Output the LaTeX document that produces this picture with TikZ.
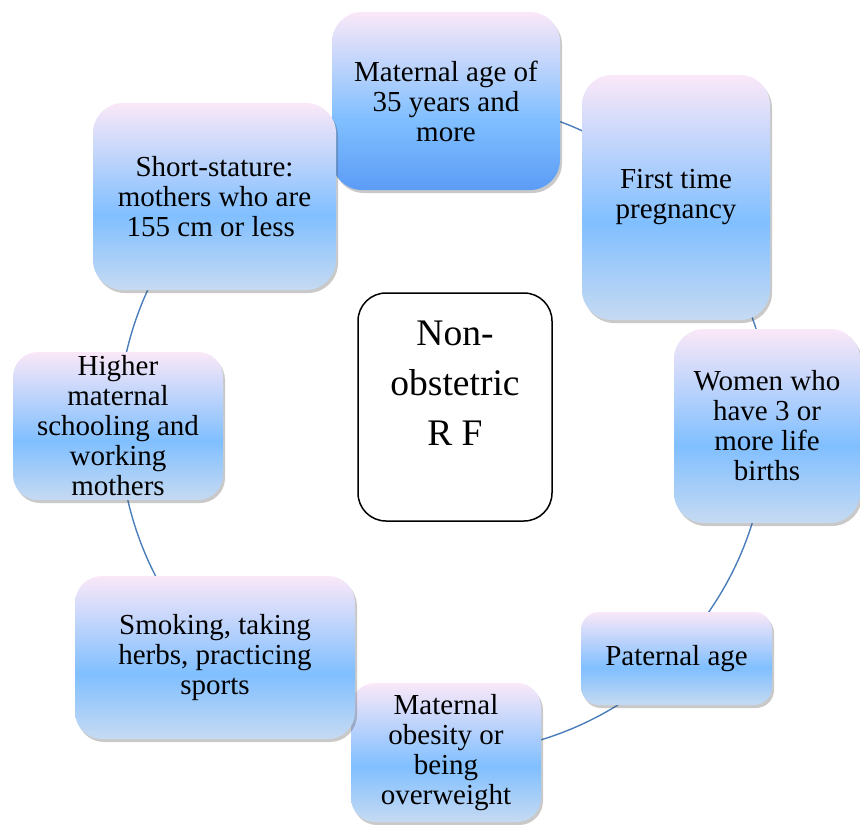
\documentclass[tikz,border=0pt]{standalone}
\usepackage{fontspec}
\setmainfont{Liberation Serif}
\usetikzlibrary{shadows,backgrounds}
\definecolor{pinktop}{HTML}{FAE8F8}
\definecolor{midblue}{HTML}{80BFFF}
\definecolor{botblue}{HTML}{C6DAF2}
\definecolor{darkbot}{HTML}{5C9CF6}
\definecolor{linkblue}{HTML}{4A7EBB}
\pgfdeclareverticalshading{boxshade}{100bp}{color(0bp)=(botblue); color(25bp)=(botblue); color(45bp)=(midblue); color(75bp)=(pinktop); color(100bp)=(pinktop)}
\pgfdeclareverticalshading{boxshadeB}{100bp}{color(0bp)=(darkbot); color(25bp)=(darkbot); color(45bp)=(midblue); color(75bp)=(pinktop); color(100bp)=(pinktop)}
\tikzset{
  box/.style={shading=boxshade, draw=none, align=center, inner sep=0pt,
    font=\fontsize{29}{30}\selectfont,
    drop shadow={shadow xshift=2pt, shadow yshift=-3pt, opacity=0.3, fill=black!70}},
  cbox/.style={draw=black, line width=1.5pt, fill=white, rounded corners=28pt, inner sep=0pt},
  ctext/.style={align=center, inner sep=0pt, font=\fontsize{37.5}{50}\selectfont},
  conn/.style={draw=linkblue, line width=1.4pt}
}
\begin{document}
\begin{tikzpicture}[x=1pt,y=-1pt]
\useasboundingbox (0,0) rectangle (860,825);
\node[box, shading=boxshadeB, rounded corners=30pt, minimum width=228pt, minimum height=178pt] (n1) at (446,101) {Maternal age of\\35 years and\\more\hspace*{0pt}};
\node[box, rounded corners=30pt, minimum width=188pt, minimum height=245pt] (n2) at (676,197.5) {First time\\pregnancy};
\node[box, rounded corners=30pt, minimum width=186pt, minimum height=194pt] (n3) at (767,426) {Women who\\have 3 or\\more life\\births};
\node[box, rounded corners=18pt, minimum width=191pt, minimum height=93pt] (n4) at (676.5,658.5) {Paternal age};
\node[box, rounded corners=24pt, minimum width=190pt, minimum height=139pt] (n5) at (446,752.5) {Maternal\\obesity or\\being\\overweight};
\node[box, rounded corners=27pt, minimum width=280pt, minimum height=163pt] (n6) at (215,657.5) {Smoking, taking\\herbs, practicing\\sports};
\node[box, rounded corners=25pt, minimum width=210pt, minimum height=148pt] (n7) at (118,426) {Higher\\maternal\\schooling and\\working\\mothers};
\node[box, rounded corners=30pt, minimum width=243pt, minimum height=187pt] (n8) at (214.5,196.5) {Short-stature:\\mothers who are\\155 cm or less\hspace*{0.25em}};
\node[cbox, minimum width=194pt, minimum height=228pt] (c) at (455,407) {};
\node[ctext] (ct) at ([yshift=24pt]c.center) {Non-\\obstetric\\R F};
\begin{pgfonlayer}{background}
\draw[conn] (n1.center) arc[start angle=90, end angle=45, radius=326pt];
\draw[conn] (n2.center) arc[start angle=45, end angle=0, radius=326pt];
\draw[conn] (n3.center) arc[start angle=0, end angle=-45, radius=326pt];
\draw[conn] (n4.center) arc[start angle=-45, end angle=-90, radius=326pt];
\draw[conn] (n6.center) arc[start angle=-135, end angle=-180, radius=326pt];
\draw[conn] (n7.center) arc[start angle=180, end angle=135, radius=326pt];
\draw[conn] (n8.center) arc[start angle=135, end angle=90, radius=326pt];
\end{pgfonlayer}
\end{tikzpicture}
\end{document}
